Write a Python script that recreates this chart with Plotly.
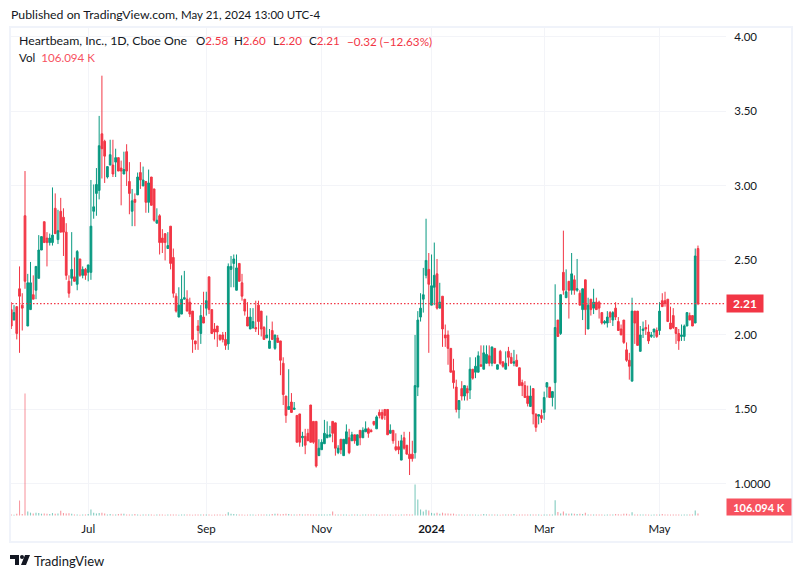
"""Heartbeam daily candles with volume, rebuilt in Plotly from a TradingView snapshot."""

import plotly.graph_objects as go

WIDTH = 804
HEIGHT = 578
FONT = "Lato, 'Open Sans', sans-serif"
TEXT = "#131722"
UP = "#089981"
DOWN = "#F23645"
GRID = "#F3F4F8"
FRAME = "#F0F3FA"

opens = [
    2.17, 2.10, 2.19, 2.31, 2.20, 2.80, 2.06, 2.17, 2.27, 2.30,
    2.38, 2.57, 2.76, 2.65, 2.62, 2.62, 2.85, 2.64, 2.83, 2.79,
    2.69, 2.36, 2.38, 2.39, 2.34, 2.51, 2.40, 2.44, 2.42, 2.42,
    2.83, 2.95, 2.97, 3.35, 3.30, 3.06, 3.14, 3.14, 3.16, 3.19,
    3.12, 3.08, 3.23, 3.03, 2.83, 2.91, 2.94, 3.09, 3.00, 3.03,
    2.89, 3.06, 2.98, 2.75, 2.80, 2.65, 2.68, 2.58, 2.73, 2.52,
    2.26, 2.12, 2.14, 2.24, 2.24, 2.22, 2.16, 1.96, 2.06, 2.01,
    2.12, 2.18, 2.39, 2.17, 2.04, 2.06, 2.00, 2.00, 1.97, 1.94,
    2.44, 2.48, 2.30, 2.48, 2.35, 2.24, 2.12, 2.04, 2.05, 2.05,
    2.20, 2.16, 2.05, 1.98, 1.91, 2.03, 1.91, 1.98, 1.96, 1.81,
    1.59, 1.50, 1.55, 1.50, 1.46, 1.47, 1.31, 1.32, 1.34, 1.53,
    1.42, 1.42, 1.19, 1.23, 1.27, 1.31, 1.32, 1.42, 1.41, 1.21,
    1.30, 1.19, 1.27, 1.31, 1.29, 1.33, 1.26, 1.36, 1.31, 1.35,
    1.37, 1.36, 1.42, 1.37, 1.48, 1.48, 1.50, 1.50, 1.34, 1.36,
    1.25, 1.25, 1.16, 1.31, 1.26, 1.20, 1.20, 1.21, 1.65, 2.12,
    2.24, 2.40, 2.44, 2.20, 2.32, 2.41, 2.18, 2.26, 2.00, 2.00,
    1.91, 1.76, 1.65, 1.50, 1.64, 1.59, 1.64, 1.63, 1.77, 1.75,
    1.75, 1.80, 1.77, 1.81, 1.86, 1.81, 1.91, 1.77, 1.89, 1.82,
    1.77, 1.89, 1.85, 1.81, 1.83, 1.78, 1.68, 1.66, 1.59, 1.52,
    1.64, 1.47, 1.455, 1.46, 1.48, 1.65, 1.65, 1.58, 1.68, 2.10,
    2.01, 2.42, 2.25, 2.36, 2.30, 2.37, 2.30, 2.28, 2.17, 2.37,
    2.04, 2.24, 2.18, 2.22, 2.22, 2.15, 2.08, 2.08, 2.15, 2.10,
    2.18, 2.09, 2.04, 2.10, 1.90, 1.83, 1.69, 2.16, 2.16, 1.89,
    2.03, 2.05, 2.02, 1.99, 2.02, 2.03, 2.03, 2.23, 2.23, 2.24,
    2.08, 2.13, 2.05, 2.01, 1.99, 1.99, 2.06, 2.13, 2.13, 2.08,
    2.58,
]
highs = [
    2.22, 2.20, 2.19, 2.46, 2.28, 3.10, 2.41, 2.49, 2.40, 2.46,
    2.67, 2.66, 2.76, 2.69, 2.68, 2.99, 2.95, 2.84, 2.92, 2.85,
    2.75, 2.40, 2.69, 2.52, 2.57, 2.51, 2.46, 2.45, 2.47, 3.04,
    3.01, 3.12, 3.47, 3.74, 3.31, 3.13, 3.31, 3.31, 3.25, 3.19,
    3.17, 3.23, 3.28, 3.16, 2.98, 2.95, 3.09, 3.16, 3.13, 3.03,
    3.11, 3.06, 2.98, 2.85, 2.81, 2.71, 2.68, 2.69, 2.73, 2.58,
    2.28, 2.32, 2.40, 2.43, 2.30, 2.25, 2.16, 1.96, 2.10, 2.20,
    2.29, 2.29, 2.39, 2.17, 2.08, 2.06, 2.00, 2.02, 2.02, 2.48,
    2.53, 2.54, 2.54, 2.48, 2.41, 2.24, 2.22, 2.18, 2.18, 2.23,
    2.23, 2.16, 2.06, 2.13, 2.04, 2.09, 2.00, 2.00, 1.96, 1.85,
    1.59, 1.77, 1.61, 1.55, 1.46, 1.47, 1.35, 1.37, 1.37, 1.53,
    1.42, 1.42, 1.30, 1.30, 1.43, 1.42, 1.39, 1.42, 1.41, 1.26,
    1.30, 1.30, 1.40, 1.37, 1.35, 1.33, 1.33, 1.36, 1.38, 1.42,
    1.38, 1.37, 1.42, 1.46, 1.50, 1.50, 1.50, 1.50, 1.40, 1.36,
    1.34, 1.29, 1.33, 1.35, 1.26, 1.35, 1.29, 2.00, 2.16, 2.28,
    2.45, 2.78, 2.55, 2.54, 2.62, 2.51, 2.35, 2.26, 2.07, 2.03,
    1.91, 1.84, 1.70, 1.56, 1.69, 1.66, 1.66, 1.85, 1.77, 1.85,
    1.89, 1.93, 1.93, 1.93, 1.93, 1.92, 1.91, 1.80, 1.90, 1.82,
    1.89, 1.92, 1.88, 1.90, 1.87, 1.78, 1.70, 1.69, 1.66, 1.66,
    1.64, 1.47, 1.465, 1.50, 1.62, 1.68, 1.65, 1.62, 2.34, 2.10,
    2.27, 2.70, 2.44, 2.36, 2.55, 2.40, 2.51, 2.30, 2.31, 2.37,
    2.25, 2.24, 2.31, 2.25, 2.23, 2.15, 2.10, 2.16, 2.16, 2.16,
    2.22, 2.12, 2.07, 2.10, 1.95, 1.88, 2.25, 2.16, 2.16, 2.06,
    2.09, 2.10, 2.07, 2.02, 2.04, 2.05, 2.22, 2.28, 2.29, 2.24,
    2.19, 2.18, 2.05, 2.04, 2.07, 2.07, 2.15, 2.15, 2.13, 2.58,
    2.60,
]
lows = [
    2.04, 2.10, 1.97, 1.88, 2.03, 2.31, 2.06, 2.17, 2.24, 2.24,
    2.38, 2.57, 2.62, 2.46, 2.60, 2.60, 2.68, 2.61, 2.69, 2.53,
    2.37, 2.25, 2.33, 2.36, 2.30, 2.39, 2.38, 2.37, 2.36, 2.37,
    2.78, 2.80, 2.91, 3.05, 3.02, 3.05, 3.14, 3.06, 3.06, 3.10,
    2.87, 3.08, 3.00, 2.81, 2.73, 2.73, 2.94, 2.98, 3.00, 2.82,
    2.82, 2.87, 2.76, 2.75, 2.54, 2.55, 2.50, 2.58, 2.44, 2.25,
    2.15, 2.12, 2.14, 2.24, 2.16, 2.12, 1.88, 1.90, 1.90, 1.94,
    2.08, 2.13, 2.14, 2.01, 1.97, 1.92, 1.96, 1.95, 1.90, 1.90,
    2.32, 2.32, 2.30, 2.36, 2.23, 2.13, 2.06, 2.04, 2.04, 2.02,
    2.00, 1.99, 1.97, 1.98, 1.91, 1.97, 1.90, 1.95, 1.73, 1.53,
    1.41, 1.50, 1.48, 1.50, 1.28, 1.25, 1.25, 1.20, 1.29, 1.28,
    1.27, 1.11, 1.19, 1.23, 1.27, 1.31, 1.31, 1.28, 1.19, 1.20,
    1.20, 1.19, 1.27, 1.20, 1.29, 1.27, 1.26, 1.26, 1.31, 1.35,
    1.31, 1.35, 1.39, 1.37, 1.44, 1.43, 1.43, 1.33, 1.34, 1.27,
    1.22, 1.20, 1.16, 1.23, 1.20, 1.06, 1.15, 1.17, 1.59, 2.09,
    2.15, 2.38, 1.88, 2.20, 2.20, 2.17, 2.18, 1.92, 1.92, 1.80,
    1.75, 1.64, 1.48, 1.44, 1.56, 1.56, 1.56, 1.57, 1.70, 1.71,
    1.75, 1.79, 1.77, 1.81, 1.79, 1.79, 1.81, 1.77, 1.80, 1.78,
    1.77, 1.79, 1.81, 1.79, 1.79, 1.66, 1.59, 1.58, 1.52, 1.52,
    1.40, 1.35, 1.40, 1.41, 1.43, 1.58, 1.58, 1.52, 1.50, 1.99,
    2.00, 2.27, 2.25, 2.11, 2.27, 2.27, 2.29, 2.20, 2.10, 2.00,
    2.04, 2.13, 2.14, 2.17, 2.11, 2.07, 2.07, 2.05, 2.08, 2.06,
    2.10, 2.03, 2.00, 1.94, 1.82, 1.70, 1.69, 1.94, 1.93, 1.89,
    1.98, 2.00, 1.94, 1.98, 1.98, 1.98, 2.00, 2.19, 2.19, 2.09,
    2.04, 2.04, 1.94, 1.90, 1.96, 1.96, 2.06, 2.10, 2.06, 2.08,
    2.20,
]
closes = [
    2.06, 2.15, 2.01, 2.26, 2.18, 2.36, 2.35, 2.35, 2.24, 2.46,
    2.57, 2.66, 2.62, 2.62, 2.65, 2.67, 2.68, 2.70, 2.69, 2.69,
    2.40, 2.28, 2.44, 2.36, 2.56, 2.40, 2.44, 2.40, 2.47, 2.73,
    2.86, 3.01, 3.27, 3.25, 3.20, 3.13, 3.21, 3.08, 3.19, 3.10,
    3.10, 3.11, 3.10, 2.95, 2.90, 2.89, 3.06, 3.04, 3.04, 2.89,
    3.02, 2.87, 2.77, 2.77, 2.62, 2.62, 2.62, 2.60, 2.48, 2.28,
    2.16, 2.20, 2.24, 2.25, 2.16, 2.14, 1.97, 1.94, 2.03, 2.13,
    2.08, 2.23, 2.17, 2.01, 2.02, 2.02, 1.97, 1.97, 1.93, 2.46,
    2.46, 2.51, 2.45, 2.36, 2.26, 2.16, 2.06, 2.12, 2.09, 2.04,
    2.09, 2.04, 1.97, 2.00, 1.96, 1.97, 2.00, 1.95, 1.83, 1.60,
    1.46, 1.52, 1.48, 1.51, 1.28, 1.28, 1.32, 1.26, 1.29, 1.28,
    1.28, 1.12, 1.24, 1.28, 1.34, 1.33, 1.33, 1.34, 1.24, 1.24,
    1.23, 1.30, 1.35, 1.21, 1.33, 1.29, 1.33, 1.31, 1.36, 1.37,
    1.34, 1.35, 1.40, 1.45, 1.46, 1.44, 1.46, 1.33, 1.36, 1.29,
    1.23, 1.23, 1.29, 1.24, 1.20, 1.17, 1.17, 1.66, 2.10, 2.18,
    2.27, 2.50, 2.34, 2.33, 2.40, 2.18, 2.22, 2.04, 1.98, 1.91,
    1.75, 1.68, 1.50, 1.56, 1.59, 1.66, 1.61, 1.77, 1.71, 1.79,
    1.86, 1.79, 1.88, 1.87, 1.81, 1.92, 1.81, 1.80, 1.81, 1.79,
    1.81, 1.85, 1.81, 1.82, 1.79, 1.66, 1.66, 1.58, 1.54, 1.59,
    1.47, 1.38, 1.465, 1.44, 1.58, 1.68, 1.58, 1.62, 2.05, 1.99,
    2.27, 2.30, 2.29, 2.30, 2.41, 2.30, 2.31, 2.20, 2.31, 2.17,
    2.20, 2.17, 2.22, 2.17, 2.18, 2.08, 2.09, 2.12, 2.12, 2.15,
    2.12, 2.03, 2.00, 1.95, 1.83, 1.79, 2.16, 2.08, 1.93, 2.00,
    2.04, 2.04, 1.96, 2.00, 2.04, 1.99, 2.16, 2.19, 2.21, 2.09,
    2.04, 2.05, 2.01, 1.96, 2.00, 2.06, 2.15, 2.10, 2.06, 2.53,
    2.21,
]
# thousands of shares
volumes = [
    55, 45, 90, 795, 80, 6470, 210, 150, 100, 140,
    130, 95, 110, 90, 85, 130, 95, 105, 250, 130,
    110, 120, 90, 55, 50, 45, 50, 60, 85, 320,
    140, 110, 130, 150, 100, 60, 80, 60, 55, 85,
    90, 90, 60, 50, 55, 85, 50, 45, 50, 55,
    50, 55, 45, 50, 60, 50, 45, 50, 55, 60,
    55, 45, 50, 55, 60, 50, 45, 50, 55, 50,
    60, 55, 50, 45, 50, 55, 50, 45, 60, 170,
    90, 80, 60, 55, 50, 45, 50, 55, 50, 45,
    55, 50, 60, 55, 50, 85, 90, 95, 60, 80,
    95, 85, 55, 50, 60, 70, 55, 60, 65, 50,
    55, 60, 60, 50, 55, 60, 70, 215, 60, 55,
    50, 55, 50, 45, 50, 55, 50, 45, 50, 60,
    55, 50, 60, 55, 45, 50, 55, 60, 50, 45,
    50, 45, 60, 55, 70, 55, 60, 1640, 850, 320,
    210, 310, 260, 140, 110, 140, 90, 150, 105, 110,
    95, 100, 55, 60, 50, 45, 55, 50, 60, 50,
    45, 50, 85, 60, 50, 55, 60, 50, 45, 60,
    50, 55, 50, 85, 45, 60, 50, 55, 60, 55,
    50, 60, 55, 45, 60, 55, 50, 60, 810, 180,
    110, 210, 110, 95, 100, 95, 80, 95, 85, 150,
    60, 55, 50, 60, 55, 50, 45, 60, 55, 50,
    85, 70, 60, 90, 95, 60, 170, 60, 55, 50,
    55, 60, 50, 45, 55, 60, 50, 80, 60, 55,
    50, 60, 55, 50, 45, 60, 55, 50, 55, 260,
    106.094,
]

bars = list(range(len(closes)))
month_bars = [28, 71, 113, 153, 194, 236]
month_labels = ["Jul", "Sep", "Nov", "<b>2024</b>", "Mar", "May"]
price_ticks = [1.0, 1.5, 2.0, 2.5, 3.0, 3.5, 4.0]
price_labels = ["1.0000", "1.50", "2.00", "2.50", "3.00", "3.50", "4.00"]


def px_x(x):
    return x / WIDTH


def px_y(y):
    return 1 - y / HEIGHT


def label(x, y, text, size=12, color=TEXT, **kwargs):
    return dict(
        x=px_x(x), y=px_y(y), xref="paper", yref="paper", text=text,
        showarrow=False, xanchor="left", yanchor="middle",
        font=dict(family=FONT, size=size, color=color), **kwargs,
    )


def ohlc_label(x, letter, value):
    return label(x, 41, f"{letter}<span style='color:{DOWN}'>{value}</span>", size=11.6)


vol_colors = [
    "rgba(8,153,129,0.5)" if c >= o else "rgba(242,54,69,0.5)"
    for o, c in zip(opens, closes)
]

fig = go.Figure()
fig.add_trace(go.Bar(
    x=bars, y=volumes, yaxis="y2", marker=dict(color=vol_colors, line_width=0),
    width=0.4, hoverinfo="skip",
))
fig.add_trace(go.Candlestick(
    x=bars, open=opens, high=highs, low=lows, close=closes,
    increasing=dict(line=dict(color=UP, width=1), fillcolor=UP),
    decreasing=dict(line=dict(color=DOWN, width=1), fillcolor=DOWN),
    whiskerwidth=0,
))

# TradingView mark, drawn in page pixels
logo_paths = [
    [(10, 555), (19, 555), (19, 565), (15, 565), (15, 559), (10, 559)],
    [(25, 555), (30, 555), (26, 565), (21, 565)],
]
shapes = [
    dict(type="rect", xref="paper", yref="paper", layer="below",
         x0=px_x(10), x1=px_x(792), y0=px_y(542), y1=px_y(27),
         line=dict(color=FRAME, width=2)),
    dict(type="line", xref="x", yref="y", x0=-1, x1=261,
         y0=closes[-1], y1=closes[-1],
         line=dict(color=DOWN, width=1.4, dash="1.5px,2px")),
    dict(type="circle", xref="paper", yref="paper", fillcolor=TEXT, line_width=0,
         x0=px_x(20), x1=px_x(24), y0=px_y(559), y1=px_y(555)),
]
for path in logo_paths:
    d = "M" + "L".join(f"{px_x(x):.5f},{px_y(y):.5f}" for x, y in path) + "Z"
    shapes.append(dict(type="path", path=d, xref="paper", yref="paper",
                       fillcolor=TEXT, line_width=0))

annotations = [
    label(9, 15, "Published on TradingView.com,", size=12.3),
    label(179, 15, "May 21, 2024 13:00 UTC-4", size=11.5),
    label(17, 41, "Heartbeam, Inc., 1D, Cboe One", size=12.3),
    ohlc_label(194, "O", "2.58"),
    ohlc_label(232, "H", "2.60"),
    ohlc_label(271, "L", "2.20"),
    ohlc_label(307, "C", "2.21"),
    label(345, 41, f"<span style='color:{DOWN}'>−0.32 (−12.63%)</span>", size=11.7),
    label(17, 58, "Vol  <span style='color:#F7525F'>106.094 K</span>", size=11.6),
    label(32, 561, "TradingView", size=13),
    dict(x=px_x(726), y=closes[-1], xref="paper", yref="y", text="<b>2.21</b>",
         showarrow=False, xanchor="left", yanchor="middle", width=36, height=17,
         bgcolor=DOWN, borderpad=0, font=dict(family=FONT, size=12, color="white")),
    dict(x=px_x(726), y=px_y(507), xref="paper", yref="paper", text="<b>106.094 K</b>",
         showarrow=False, xanchor="left", yanchor="middle", width=64, height=16,
         bgcolor="#F7525F", borderpad=0, font=dict(family=FONT, size=11, color="white")),
]

fig.update_layout(
    width=WIDTH, height=HEIGHT, margin=dict(l=0, r=0, t=0, b=0),
    paper_bgcolor="white", plot_bgcolor="white", showlegend=False, hovermode=False,
    font=dict(family=FONT, size=11.5, color=TEXT), shapes=shapes, annotations=annotations,
    boxgap=0.1,
    xaxis=dict(
        domain=[px_x(11), px_x(726)], range=[-0.1, 260.2], rangeslider_visible=False,
        tickmode="array", tickvals=month_bars, ticktext=month_labels,
        showgrid=True, gridcolor=GRID, gridwidth=1, zeroline=False, showline=False,
        ticks="outside", ticklen=2, tickcolor="rgba(0,0,0,0)",
    ),
    yaxis=dict(
        domain=[px_y(516), px_y(28)], range=[0.785, 4.06], side="right",
        tickmode="array", tickvals=price_ticks, ticktext=price_labels,
        showgrid=True, gridcolor=GRID, gridwidth=1, zeroline=False, showline=False,
        ticks="outside", ticklen=5, tickcolor="rgba(0,0,0,0)",
    ),
    yaxis2=dict(
        domain=[px_y(516), px_y(28)], range=[-26, 25850], overlaying="y",
        visible=False,
    ),
)

fig.write_html(
    "out.html",
    config={"displayModeBar": False},
    post_script="document.body.style.margin='0';",
)
